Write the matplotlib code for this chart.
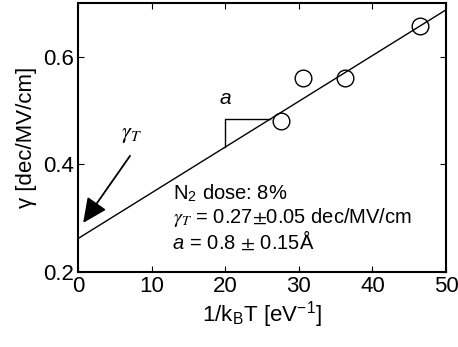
import matplotlib
matplotlib.use('Agg')
import matplotlib.pyplot as plt
import numpy as np

plt.rcParams['font.family'] = ['Liberation Sans', 'DejaVu Sans']
plt.rcParams['mathtext.fontset'] = 'stix'

# measured points: 1/kBT [eV^-1] vs gamma [dec/MV/cm]
inv_kT = [27.6, 30.6, 36.3, 46.5]
gamma = [0.481, 0.561, 0.561, 0.657]

# linear fit
fit_intercept = 0.262
fit_slope = 0.0085
fit_x = [0, 50]

fig = plt.figure(figsize=(4.58, 3.47), dpi=100)
ax = fig.add_axes([0.170, 0.216, 0.804, 0.776])

xs = np.array(fit_x, dtype=float)
ax.plot(xs, fit_intercept + fit_slope * xs, color='black', lw=1.0)
ax.plot(inv_kT, gamma, 'o', mfc='none', mec='black', ms=12, mew=1.0)

# slope triangle
x0, x1 = 20, 26.1
y_top = fit_intercept + fit_slope * x1
ax.plot([x0, x0, x1], [fit_intercept + fit_slope * x0, y_top, y_top],
        color='black', lw=1.0)
ax.text(20, 0.522, 'a', fontsize=15, style='italic', ha='center', va='center')

# intercept arrow
ax.annotate('', xy=(0.5, 0.287), xytext=(7.3, 0.42),
            arrowprops=dict(arrowstyle='-|>,head_length=0.75,head_width=0.35',
                            color='black', lw=1.3, mutation_scale=20))
ax.text(7.3, 0.456, r'$\gamma_T$', fontsize=16, ha='center', va='center')

fs = 14.5
ax.text(12.9, 0.346, r'N$_\mathregular{2}$ dose: 8%', fontsize=fs, va='center')
ax.text(12.9, 0.302, r'$\gamma_T$ = 0.27$\pm$0.05 dec/MV/cm', fontsize=fs, va='center')
a_txt = ax.text(12.9, 0.235, 'a', fontsize=fs, style='italic', va='bottom')
ax.annotate(' = 0.8 $\\pm$ 0.15Å', xy=(1, 0), xycoords=a_txt, fontsize=fs,
            va='bottom', ha='left')

ax.set_xlim(0, 50)
ax.set_ylim(0.2, 0.7)
ax.set_xticks([0, 10, 20, 30, 40, 50])
ax.set_yticks([0.2, 0.4, 0.6])
ax.set_yticklabels(['0.2', '0.4', '0.6'])
ax.tick_params(direction='in', top=True, right=True, labelsize=16, length=4, pad=3)
for s in ax.spines.values():
    s.set_linewidth(1.5)

ax.set_xlabel(r'1/k$_\mathregular{B}$T [eV$^\mathregular{-1}$]', fontsize=16, labelpad=2)
ax.set_ylabel('γ [dec/MV/cm]', fontsize=16, labelpad=4)

fig.savefig('out.png', dpi=100)
